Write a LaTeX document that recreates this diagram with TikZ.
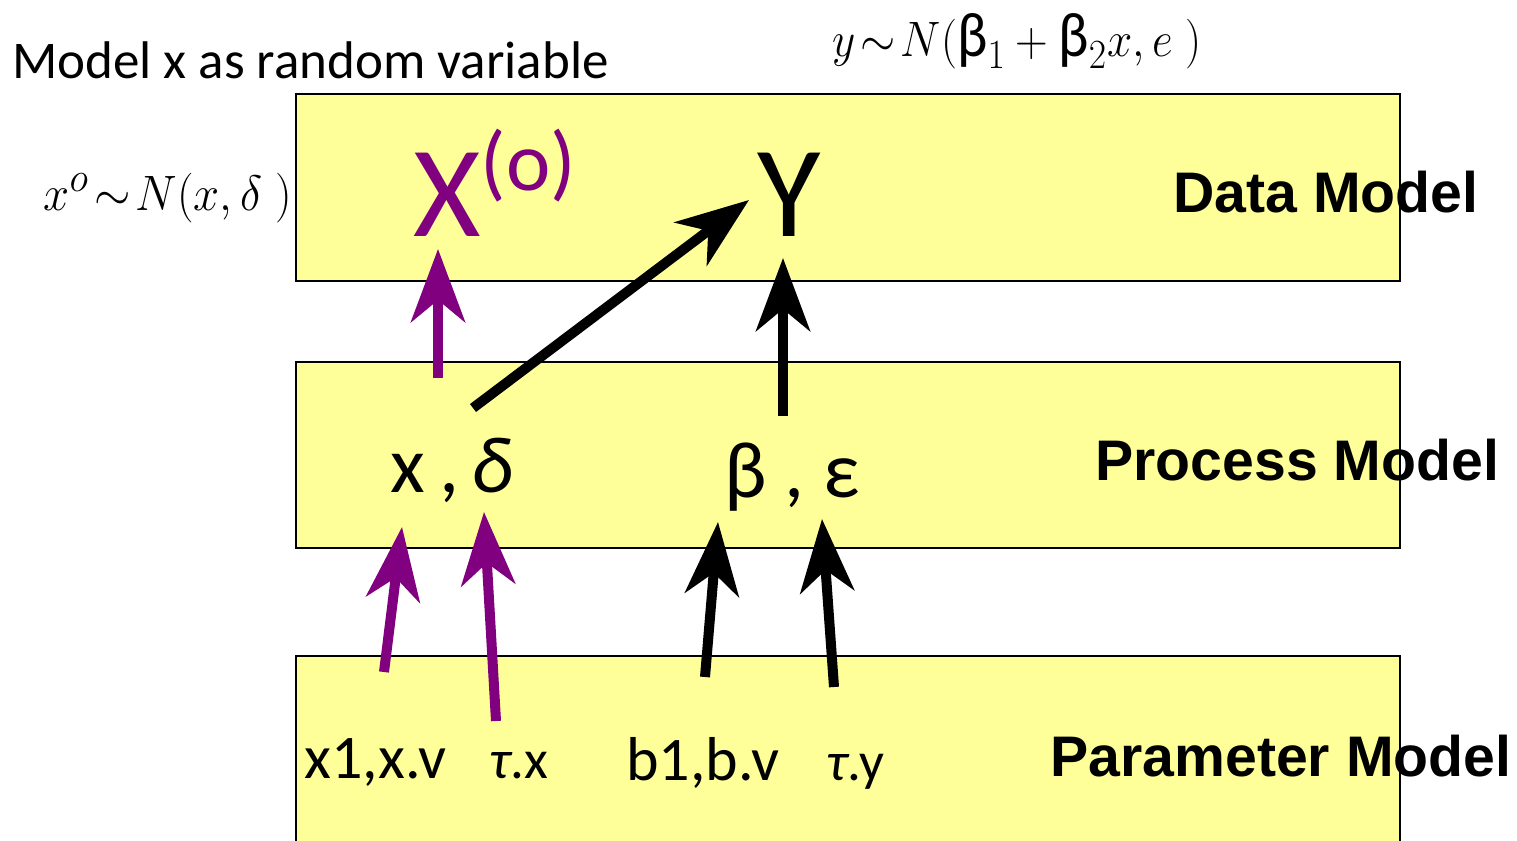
\documentclass[tikz,border=0pt]{standalone}
\usepackage{fontspec}
\usepackage{graphicx}
\setmainfont{Carlito}
\newfontfamily\arialfont{Liberation Sans}
\usetikzlibrary{arrows.meta}
\definecolor{boxyellow}{HTML}{FFFF99}
\definecolor{vio}{HTML}{800080}
\tikzset{
  layer/.style={draw=black, line width=1pt, fill=boxyellow},
  lbl/.style={inner sep=0pt, anchor=base west},
  title/.style={lbl, font=\arialfont\bfseries\fontsize{28.6}{30}\selectfont},
  big/.style={lbl, font=\fontsize{65}{65}\selectfont},
  mid/.style={lbl, font=\fontsize{40}{40}\selectfont},
  small/.style={lbl, font=\fontsize{31}{31}\selectfont},
  arr/.style={line width=5pt, -{Stealth[length=36.5pt,width=27pt,inset=11pt]}},
}
\begin{document}
\begin{tikzpicture}[x=0.5pt,y=-0.5pt]
\useasboundingbox (0,0) rectangle (1517,841);
\clip (0,0) rectangle (1517,841);
% layers
\draw[layer] (296,94) rectangle (1400,281);
\draw[layer] (296,362) rectangle (1400,548);
\draw[layer] (296,656) rectangle (1400,870);
% headings
\node[lbl, font=\fontsize{26.5}{27}\selectfont] (head) at (12,78) {Model x as random variable};
\node[inner sep=0pt, anchor=base] (eqx) at (168,210) {\fontsize{32}{33}\selectfont\scalebox{0.94}[1]{$x^{o}\!\sim\! N(x,\delta\ )$}};
\node[inner sep=0pt, anchor=base] (eqy) at (1017,56) {\fontsize{31.5}{32}\selectfont\scalebox{0.91}[1]{$y\!\sim\! N(\mbox{β}_1+\mbox{β}_2x, e\ )$}};
\node[title] (dm) at (1173,212) {Data Model};
\node[title] (pm) at (1095,480) {Process Model};
\node[title] (pam) at (1050,776) {Parameter Model};
% data model
\node[big, text=vio] (X) at (413,236) {X\raisebox{23pt}{\fontsize{42}{42}\selectfont (o)}};
\node[big] (Y) at (757,236) {Y};
% process model
\node[mid] (xd) at (390,492) {x\hspace{0.18em},\hspace{0.15em}\textit{δ}};
\node[mid] (be) at (724,497) {β , ε};
% parameter model
\node[small] (x1) at (304,778) {x1,x.v};
\node[small, font=\fontsize{27.5}{28}\selectfont] (tx) at (489,778) {\textit{τ}.x};
\node[small] (b1) at (626,780) {b1,b.v};
\node[small, font=\fontsize{27.5}{28}\selectfont] (ty) at (826,780) {\textit{τ}.y};
% arrow ends
\coordinate (a1s) at (438,378); \coordinate (a1e) at (438,249);
\coordinate (a2s) at (473,408); \coordinate (a2e) at (749,200);
\coordinate (a3s) at (783,416); \coordinate (a3e) at (783,258);
\coordinate (a4s) at (384,672); \coordinate (a4e) at (402,527);
\coordinate (a5s) at (496,721); \coordinate (a5e) at (484,512);
\coordinate (a6s) at (705,677); \coordinate (a6e) at (718,522);
\coordinate (a7s) at (834,687); \coordinate (a7e) at (822,519);
\draw[arr, vio] (a1s) -- (a1e);
\draw[arr] (a2s) -- (a2e);
\draw[arr] (a3s) -- (a3e);
\draw[arr, vio] (a4s) -- (a4e);
\draw[arr, vio] (a5s) -- (a5e);
\draw[arr] (a6s) -- (a6e);
\draw[arr] (a7s) -- (a7e);
\end{tikzpicture}
\end{document}
